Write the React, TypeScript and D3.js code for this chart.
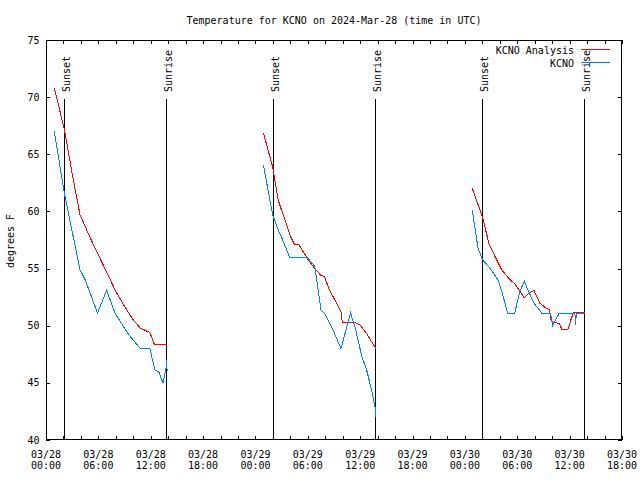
import React from "react";
import * as d3 from "d3";

// ---- data (hours after 2024-03-28 00:00 UTC) ----
const startTime = Date.UTC(2024, 2, 28, 0, 0);
const endHours = 66;

const analysisHours: (number | null)[] = [
  0.95, 2.1, 3.0, 3.9, 5.0, 6.0, 7.0, 8.0, 9.0, 10.0, 10.8, 11.9, 12.4, 13.9,
  null,
  24.9, 25.97, 26.6, 27.0, 27.96, 28.45, 29.0, 30.06, 30.8, 31.5, 31.9, 32.5, 33.2, 33.8, 33.95, 35.3, 35.98, 36.75, 37.8,
  null,
  48.85, 50.0, 50.8, 51.3, 52.2, 53.2, 53.7, 54.3, 54.8, 55.3, 55.9, 56.6, 57.2, 57.7, 57.9, 58.8, 59.1, 59.8, 60.4, 60.8, 61.8,
];
const analysisTemps: (number | null)[] = [
  70.8, 67.2, 63.3, 59.7, 57.8, 56.2, 54.6, 53.0, 51.7, 50.5, 49.8, 49.4, 48.4, 48.4,
  null,
  66.9, 63.9, 61.0, 60.1, 57.9, 57.15, 57.06, 55.75, 55.0, 54.4, 54.3, 53.1, 52.1, 51.2, 50.3, 50.3, 50.06, 49.3, 48.0,
  null,
  62.0, 59.55, 57.06, 56.3, 54.9, 54.0, 53.7, 53.0, 52.45, 52.8, 53.1, 51.96, 51.6, 51.4, 50.35, 50.2, 49.7, 49.7, 51.1, 51.2, 51.2,
];

const obsHours: (number | null)[] = [
  0.95, 2.1, 3.9, 4.5, 5.9, 6.95, 7.9, 9.4, 10.8, 11.9, 12.5, 12.9, 13.4, 13.8, 13.85, 13.87,
  null,
  24.9, 25.97, 26.6, 27.2, 27.9, 29.9, 30.8, 31.5, 31.9, 32.9, 33.8, 34.15, 34.9, 35.4, 36.2, 36.75, 37.3, 37.7, 37.8,
  null,
  48.85, 49.5, 50.0, 50.9, 51.8, 52.2, 52.9, 53.7, 54.3, 54.8, 55.3, 55.9, 56.8, 57.8, 58.05, 58.2, 58.8, 60.6, 60.7, 60.75, 61.8,
];
const obsTemps: (number | null)[] = [
  67.0, 61.6, 54.9, 54.0, 51.1, 53.1, 51.1, 49.3, 48.0, 48.0, 46.1, 46.0, 45.0, 46.5, 47.0, 46.0,
  null,
  64.1, 59.7, 58.4, 57.35, 56.0, 56.0, 55.2, 51.4, 51.1, 49.6, 48.0, 49.0, 51.1, 49.9, 47.3, 46.1, 44.4, 42.9, 42.0,
  null,
  60.1, 56.8, 55.8, 55.0, 54.0, 53.1, 51.1, 51.1, 53.0, 53.9, 53.0, 52.0, 51.1, 51.1, 50.0, 50.2, 51.1, 51.1, 50.1, 51.1, 51.1,
];

const sunsetHours = [2.1, 26.05, 50.0];
const sunriseHours = [13.72, 37.74, 61.68];

const yTicks = [40, 45, 50, 55, 60, 65, 70, 75];
const titleText = "Temperature for KCNO on 2024-Mar-28 (time in UTC)";
const yLabel = "degrees F";
const seriesNames = ["KCNO Analysis", "KCNO"];
const seriesColors = ["#ff0000", "#0080ff"];

const W = 640, H = 480;
const L = 46, R = 622, T = 40, B = 440;
const FONT = "'DejaVu Sans Mono', 'Liberation Mono', monospace";

const hToDate = (h: number) => new Date(startTime + h * 3600 * 1000);

export default function App() {
  const x = d3.scaleUtc().domain([hToDate(0), hToDate(endHours)]).range([L, R]);
  const y = d3.scaleLinear().domain([40, 75]).range([B, T]);

  const minorTicks = x.ticks(d3.utcHour.every(2) as any);
  const majorTicks = x.ticks(d3.utcHour.every(6) as any);
  const fmtDate = d3.utcFormat("%m/%d");
  const fmtTime = d3.utcFormat("%H:%M");

  const mk = (hs: (number | null)[], ts: (number | null)[]) =>
    hs.map((h, i) => [h, ts[i]] as [number | null, number | null]);

  const line = d3
    .line<[number | null, number | null]>()
    .defined((d) => d[0] != null && d[1] != null)
    .x((d) => x(hToDate(d[0] as number)))
    .y((d) => y(d[1] as number));

  const analysisPath = line(mk(analysisHours, analysisTemps)) || "";
  const obsPath = line(mk(obsHours, obsTemps)) || "";

  const tickLen = 4;

  return (
    <svg
      width={W}
      height={H}
      style={{ position: "absolute", left: 0, top: 0, background: "#fff" }}
      fontFamily={FONT}
      fontSize={10}
    >
      <rect x={0} y={0} width={W} height={H} fill="#fff" />
      {/* title */}
      <text x={(L + R) / 2} y={24} textAnchor="middle" fill="#000">
        {titleText}
      </text>
      {/* y label */}
      <text transform={`translate(13.5,241) rotate(-90)`} textAnchor="middle" fill="#000">
        {yLabel}
      </text>

      {/* y ticks */}
      {yTicks.map((v) => (
        <g key={"y" + v}>
          <line x1={L} x2={L + tickLen} y1={Math.round(y(v)) + 0.5} y2={Math.round(y(v)) + 0.5} stroke="#000" />
          <line x1={R - tickLen} x2={R} y1={Math.round(y(v)) + 0.5} y2={Math.round(y(v)) + 0.5} stroke="#000" />
          <text x={39.5} y={y(v) + 3.5} textAnchor="end" fill="#000">
            {v}
          </text>
        </g>
      ))}

      {/* x ticks */}
      {minorTicks.map((d, i) => {
        const px = Math.round(x(d)) + 0.5;
        return (
          <g key={"xt" + i}>
            <line x1={px} x2={px} y1={B} y2={B - tickLen} stroke="#000" />
            <line x1={px} x2={px} y1={T} y2={T + tickLen} stroke="#000" />
          </g>
        );
      })}
      {majorTicks.map((d, i) => (
        <g key={"xl" + i}>
          <text x={x(d)} y={458} textAnchor="middle" fill="#000">
            {fmtDate(d)}
          </text>
          <text x={x(d)} y={469} textAnchor="middle" fill="#000">
            {fmtTime(d)}
          </text>
        </g>
      ))}

      {/* sunset / sunrise markers */}
      {[...sunsetHours.map((h) => ({ h, label: "Sunset" })), ...sunriseHours.map((h) => ({ h, label: "Sunrise" }))].map(
        (m, i) => {
          const px = Math.round(x(hToDate(m.h))) + 0.5;
          return (
            <g key={"m" + i}>
              <line x1={px} x2={px} y1={99} y2={B} stroke="#000" />
              <text transform={`translate(${px + 5.5},92) rotate(-90)`} fill="#000">
                {m.label}
              </text>
            </g>
          );
        }
      )}

      {/* data */}
      <path d={analysisPath} fill="none" stroke={seriesColors[0]} strokeWidth={1} shapeRendering="crispEdges" />
      <path d={obsPath} fill="none" stroke={seriesColors[1]} strokeWidth={1} shapeRendering="crispEdges" />

      {/* legend */}
      {seriesNames.map((n, i) => (
        <g key={"lg" + i}>
          <text x={574} y={53.5 + i * 13} textAnchor="end" fill="#000">
            {n}
          </text>
          <line x1={581} x2={610} y1={49.5 + i * 13} y2={49.5 + i * 13} stroke={seriesColors[i]} />
        </g>
      ))}

      {/* border */}
      <rect x={L + 0.5} y={T + 0.5} width={R - L - 1} height={B - T - 1} fill="none" stroke="#000" />
    </svg>
  );
}
